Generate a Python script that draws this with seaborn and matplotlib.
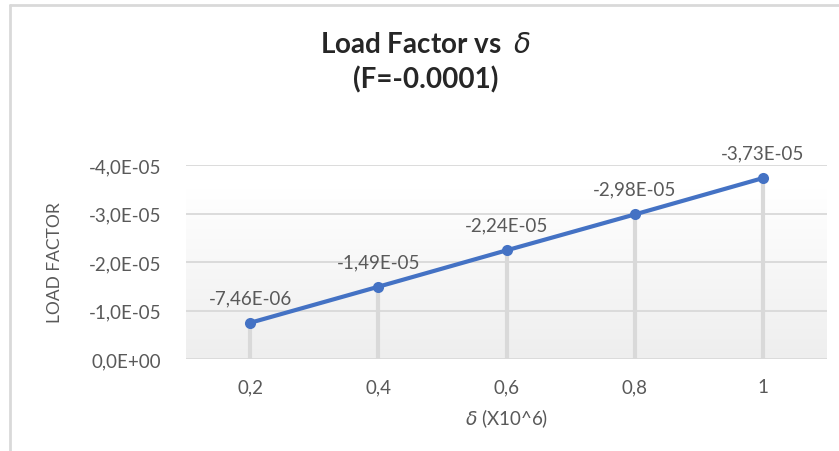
import numpy as np
import pandas as pd
import matplotlib
matplotlib.use("Agg")
import matplotlib.pyplot as plt
from matplotlib.lines import Line2D
import seaborn as sns

# Load factor as a function of delta (x10^6), F = -0.0001
delta_labels = ["0,2", "0,4", "0,6", "0,8", "1"]
load_factor = [-7.46e-06, -1.49e-05, -2.24e-05, -2.98e-05, -3.73e-05]
point_labels = ["-7,46E-06", "-1,49E-05", "-2,24E-05", "-2,98E-05", "-3,73E-05"]
y_ticks = [0.0, -1.0e-05, -2.0e-05, -3.0e-05, -4.0e-05]
y_tick_labels = ["0,0E+00", "-1,0E-05", "-2,0E-05", "-3,0E-05", "-4,0E-05"]

df = pd.DataFrame({"delta": delta_labels, "lf": load_factor})

sns.set_theme(style="white")
plt.rcParams["font.family"] = ["Lato", "DejaVu Sans"]

W, H = 839, 452
fig = plt.figure(figsize=(W / 100, H / 100), dpi=100)
fig.patch.set_facecolor("white")

left, right = 186, 827
top, bottom = 166, 360
ax = fig.add_axes([left / W, 1 - bottom / H, (right - left) / W, (bottom - top) / H])

xpos = np.arange(len(delta_labels))
ax.set_xlim(-0.5, len(delta_labels) - 0.5)
ax.set_ylim(0, -4.0e-05)

# plot-area fill: white at the top fading to light grey at the bottom
grad = np.linspace(0, 1, 256).reshape(-1, 1)
cmap = matplotlib.colors.LinearSegmentedColormap.from_list("pa", ["#ffffff", "#eeeeee"])
ax.imshow(grad, aspect="auto", cmap=cmap, extent=(-0.5, len(delta_labels) - 0.5, 0, -3.5e-05),
          origin="upper", zorder=0)

for yv in y_ticks:
    ax.axhline(yv, color="#d9d9d9", lw=1.3, zorder=1)

# drop lines from each point to the axis
ax.vlines(xpos, 0, df["lf"], color="#d9d9d9", lw=3, zorder=2)

sns.lineplot(data=df, x="delta", y="lf", sort=False, ax=ax, color="#4472C4", lw=3,
             marker="o", markersize=8, markeredgewidth=0, zorder=3)

fs = 13.5
for xi, yv, lab in zip(xpos, load_factor, point_labels):
    ax.annotate(lab, (xi, yv), xytext=(0, 12), textcoords="offset points",
                ha="center", va="bottom", fontsize=fs, color="#595959")

for s in ax.spines.values():
    s.set_visible(False)

ax.set_yticks(y_ticks)
ax.set_yticklabels(y_tick_labels, fontsize=fs, color="#595959")
ax.set_xticks(xpos)
ax.set_xticklabels(delta_labels, fontsize=fs, color="#595959")
ax.tick_params(axis="y", length=0, pad=18)
ax.tick_params(axis="x", length=0, pad=14)
ax.set_xlabel(r"$\delta$ (X10^6)", fontsize=fs, color="#595959", labelpad=8)
ax.set_ylabel("")
fig.text(55 / W, 1 - 263 / H, "LOAD FACTOR", rotation=90, ha="center", va="center",
         fontsize=12.5, color="#595959")

fig.text(0.5 + 0.5 * 12 / W, 1 - 45 / H, r"Load Factor vs  $\delta$", ha="center", va="center",
         fontsize=20, fontweight="bold", color="#262626")
fig.text(0.5 + 0.5 * 12 / W, 1 - 80 / H, "(F=-0.0001)", ha="center", va="center",
         fontsize=20, fontweight="bold", color="#262626")

# chart frame (top and left edges)
fig.add_artist(Line2D([10 / W, 1], [1 - 6 / H, 1 - 6 / H], color="#d9d9d9", lw=2))
fig.add_artist(Line2D([10 / W, 10 / W], [0, 1 - 6 / H], color="#d9d9d9", lw=2))

fig.savefig("out.png", dpi=100)
